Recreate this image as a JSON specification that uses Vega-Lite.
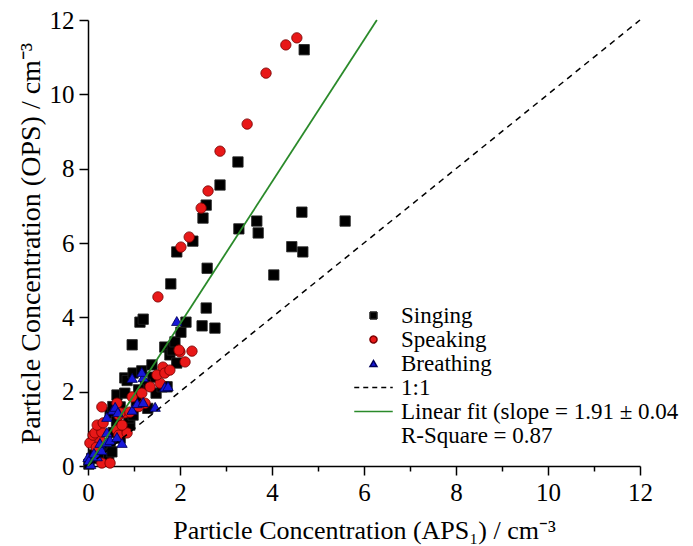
{
  "$schema": "https://vega.github.io/schema/vega-lite/v6.json",
  "width": 552,
  "height": 446,
  "autosize": "none",
  "padding": {"left": 88, "top": 20, "right": 53, "bottom": 80},
  "background": "white",
  "config": {
    "view": {"stroke": null},
    "font": "Liberation Serif",
    "axis": {
      "domainColor": "black", "domainWidth": 1.5, "tickColor": "black", "tickWidth": 1.5,
      "labelColor": "black", "titleColor": "black", "labelFont": "Liberation Serif", "titleFont": "Liberation Serif",
      "labelFontSize": 25, "titleFontSize": 26, "titleFontWeight": "normal", "grid": false
    }
  },
  "datasets": {
    "points": [
      {"series": "Singing", "x": 0.02, "y": 0.05}, {"series": "Singing", "x": 0.08, "y": 0.2}, {"series": "Singing", "x": 0.13, "y": 0.3},
      {"series": "Singing", "x": 0.2, "y": 0.43}, {"series": "Singing", "x": 0.28, "y": 0.25}, {"series": "Singing", "x": 0.37, "y": 0.51},
      {"series": "Singing", "x": 0.45, "y": 0.18}, {"series": "Singing", "x": 0.48, "y": 0.56}, {"series": "Singing", "x": 0.52, "y": 0.38},
      {"series": "Singing", "x": 0.55, "y": 0.9}, {"series": "Singing", "x": 0.48, "y": 1.43}, {"series": "Singing", "x": 0.54, "y": 1.6},
      {"series": "Singing", "x": 0.63, "y": 1.91}, {"series": "Singing", "x": 0.7, "y": 1.59}, {"series": "Singing", "x": 0.62, "y": 1.2},
      {"series": "Singing", "x": 0.8, "y": 1.05}, {"series": "Singing", "x": 0.91, "y": 1.1}, {"series": "Singing", "x": 0.89, "y": 1.29},
      {"series": "Singing", "x": 0.98, "y": 1.37}, {"series": "Singing", "x": 0.8, "y": 1.96}, {"series": "Singing", "x": 0.8, "y": 2.37},
      {"series": "Singing", "x": 0.85, "y": 2.3}, {"series": "Singing", "x": 0.98, "y": 2.5}, {"series": "Singing", "x": 1.17, "y": 2.56},
      {"series": "Singing", "x": 1.05, "y": 1.75}, {"series": "Singing", "x": 1.3, "y": 1.55}, {"series": "Singing", "x": 1.48, "y": 1.96},
      {"series": "Singing", "x": 1.39, "y": 2.72}, {"series": "Singing", "x": 1.41, "y": 2.39}, {"series": "Singing", "x": 1.61, "y": 2.13},
      {"series": "Singing", "x": 1.72, "y": 2.13}, {"series": "Singing", "x": 1.67, "y": 3.2}, {"series": "Singing", "x": 1.78, "y": 2.99},
      {"series": "Singing", "x": 1.83, "y": 3.12}, {"series": "Singing", "x": 1.89, "y": 3.34}, {"series": "Singing", "x": 1.93, "y": 2.77},
      {"series": "Singing", "x": 2.02, "y": 3.6}, {"series": "Singing", "x": 0.96, "y": 3.26}, {"series": "Singing", "x": 1.13, "y": 3.87},
      {"series": "Singing", "x": 1.2, "y": 3.95}, {"series": "Singing", "x": 2.13, "y": 3.87}, {"series": "Singing", "x": 2.48, "y": 3.77},
      {"series": "Singing", "x": 2.76, "y": 3.71}, {"series": "Singing", "x": 2.57, "y": 4.25}, {"series": "Singing", "x": 1.8, "y": 4.9},
      {"series": "Singing", "x": 2.59, "y": 5.32}, {"series": "Singing", "x": 1.93, "y": 5.76}, {"series": "Singing", "x": 2.28, "y": 6.05},
      {"series": "Singing", "x": 2.5, "y": 6.67}, {"series": "Singing", "x": 2.57, "y": 7.02}, {"series": "Singing", "x": 2.87, "y": 7.56},
      {"series": "Singing", "x": 3.26, "y": 8.18}, {"series": "Singing", "x": 3.28, "y": 6.38}, {"series": "Singing", "x": 3.67, "y": 6.59},
      {"series": "Singing", "x": 3.7, "y": 6.27}, {"series": "Singing", "x": 4.65, "y": 6.83}, {"series": "Singing", "x": 4.43, "y": 5.9},
      {"series": "Singing", "x": 4.67, "y": 5.76}, {"series": "Singing", "x": 5.59, "y": 6.59}, {"series": "Singing", "x": 4.04, "y": 5.14},
      {"series": "Singing", "x": 4.7, "y": 11.2}, {"series": "Singing", "x": 0.7, "y": 0.75}, {"series": "Singing", "x": 0.3, "y": 0.6},
      {"series": "Singing", "x": 1.25, "y": 2.2}, {"series": "Singing", "x": 1.1, "y": 2.05},
      {"series": "Speaking", "x": 0.3, "y": 0.08}, {"series": "Speaking", "x": 0.48, "y": 0.08}, {"series": "Speaking", "x": 0.04, "y": 0.62},
      {"series": "Speaking", "x": 0.26, "y": 0.7}, {"series": "Speaking", "x": 0.11, "y": 0.83}, {"series": "Speaking", "x": 0.15, "y": 0.89},
      {"series": "Speaking", "x": 0.3, "y": 0.91}, {"series": "Speaking", "x": 0.2, "y": 1.1}, {"series": "Speaking", "x": 0.33, "y": 1.16},
      {"series": "Speaking", "x": 0.3, "y": 1.59}, {"series": "Speaking", "x": 0.63, "y": 0.97}, {"series": "Speaking", "x": 0.67, "y": 0.83},
      {"series": "Speaking", "x": 0.85, "y": 0.89}, {"series": "Speaking", "x": 0.74, "y": 1.1}, {"series": "Speaking", "x": 0.67, "y": 1.37},
      {"series": "Speaking", "x": 0.8, "y": 1.43}, {"series": "Speaking", "x": 0.7, "y": 1.43}, {"series": "Speaking", "x": 0.91, "y": 1.45},
      {"series": "Speaking", "x": 0.63, "y": 1.69}, {"series": "Speaking", "x": 0.96, "y": 1.86}, {"series": "Speaking", "x": 1.17, "y": 1.96},
      {"series": "Speaking", "x": 1.24, "y": 1.69}, {"series": "Speaking", "x": 1.35, "y": 2.13}, {"series": "Speaking", "x": 1.57, "y": 2.23},
      {"series": "Speaking", "x": 1.5, "y": 2.45}, {"series": "Speaking", "x": 1.63, "y": 2.66}, {"series": "Speaking", "x": 1.67, "y": 2.5},
      {"series": "Speaking", "x": 1.78, "y": 2.58}, {"series": "Speaking", "x": 2.0, "y": 3.07}, {"series": "Speaking", "x": 1.98, "y": 3.12},
      {"series": "Speaking", "x": 2.26, "y": 3.09}, {"series": "Speaking", "x": 2.11, "y": 2.8}, {"series": "Speaking", "x": 1.52, "y": 4.55},
      {"series": "Speaking", "x": 2.02, "y": 5.89}, {"series": "Speaking", "x": 2.2, "y": 6.16}, {"series": "Speaking", "x": 2.46, "y": 6.94},
      {"series": "Speaking", "x": 2.61, "y": 7.4}, {"series": "Speaking", "x": 2.87, "y": 8.47}, {"series": "Speaking", "x": 3.46, "y": 9.2},
      {"series": "Speaking", "x": 3.87, "y": 10.57}, {"series": "Speaking", "x": 4.3, "y": 11.33}, {"series": "Speaking", "x": 4.54, "y": 11.52},
      {"series": "Speaking", "x": 0.18, "y": 0.5}, {"series": "Speaking", "x": 1.1, "y": 1.6},
      {"series": "Breathing", "x": 0.0, "y": 0.24}, {"series": "Breathing", "x": 0.02, "y": 0.16}, {"series": "Breathing", "x": 0.13, "y": 0.35},
      {"series": "Breathing", "x": 0.2, "y": 0.26}, {"series": "Breathing", "x": 0.3, "y": 0.43}, {"series": "Breathing", "x": 0.26, "y": 0.62},
      {"series": "Breathing", "x": 0.41, "y": 0.65}, {"series": "Breathing", "x": 0.48, "y": 0.7}, {"series": "Breathing", "x": 0.63, "y": 0.78},
      {"series": "Breathing", "x": 0.74, "y": 0.62}, {"series": "Breathing", "x": 0.41, "y": 0.91}, {"series": "Breathing", "x": 0.41, "y": 1.32},
      {"series": "Breathing", "x": 0.54, "y": 1.51}, {"series": "Breathing", "x": 0.59, "y": 1.59}, {"series": "Breathing", "x": 0.65, "y": 1.45},
      {"series": "Breathing", "x": 0.96, "y": 1.51}, {"series": "Breathing", "x": 1.07, "y": 1.69}, {"series": "Breathing", "x": 1.2, "y": 1.72},
      {"series": "Breathing", "x": 1.46, "y": 1.59}, {"series": "Breathing", "x": 0.96, "y": 2.37}, {"series": "Breathing", "x": 1.2, "y": 2.39},
      {"series": "Breathing", "x": 1.17, "y": 2.53}, {"series": "Breathing", "x": 1.67, "y": 2.13}, {"series": "Breathing", "x": 1.74, "y": 2.15},
      {"series": "Breathing", "x": 1.93, "y": 3.9}, {"series": "Breathing", "x": 0.06, "y": 0.05}
    ],
    "oneToOne": [{"x": 0, "y": 0}, {"x": 12, "y": 12}],
    "fit": [{"x": 0, "y": 0}, {"x": 6.28, "y": 12}]
  },
  "layer": [
    {
      "data": {"name": "points"},
      "mark": {"type": "point", "filled": true, "opacity": 1, "strokeWidth": 1, "size": 105},
      "encoding": {
        "x": {"field": "x", "type": "quantitative", "scale": {"domain": [0, 12], "nice": false},
          "axis": {"title": "Particle Concentration (APS₁) / cm⁻³", "values": [0,1,2,3,4,5,6,7,8,9,10,11,12],
            "labelExpr": "datum.value % 2 == 0 ? datum.label : ''",
            "tickSize": {"condition": {"test": "datum.value % 2 == 1", "value": 5}, "value": 9},
            "labelPadding": 5, "titlePadding": 12, "labelFlush": false}},
        "y": {"field": "y", "type": "quantitative", "scale": {"domain": [0, 12], "nice": false},
          "axis": {"title": "Particle Concentration (OPS) / cm⁻³", "values": [0,1,2,3,4,5,6,7,8,9,10,11,12],
            "labelExpr": "datum.value % 2 == 0 ? datum.label : ''",
            "tickSize": {"condition": {"test": "datum.value % 2 == 1", "value": 5}, "value": 9},
            "labelPadding": 5, "titlePadding": 4, "titleFontSize": 28, "labelFlush": false}},
        "color": {"field": "series", "type": "nominal",
          "scale": {"domain": ["Singing", "Speaking", "Breathing", "1:1", "Linear fit (slope = 1.91 ± 0.04", "R-Square = 0.87"],
                    "range": ["#000000", "#e81818", "#1818d8", "#000000", "#2a8a2a", "#ffffff"]},
          "legend": {
            "title": null, "orient": "none", "legendX": 274, "legendY": 284, "padding": 0,
            "labelFont": "Liberation Serif", "labelFontSize": 23, "labelColor": "black", "labelOffset": 16,
            "labelLimit": 0, "rowPadding": -1, "symbolSize": 49,
            "symbolStrokeWidth": 1.5, "symbolOpacity": 1
          }},
        "shape": {"field": "series", "type": "nominal",
          "scale": {"domain": ["Singing", "Speaking", "Breathing", "1:1", "Linear fit (slope = 1.91 ± 0.04", "R-Square = 0.87"],
                    "range": ["square", "circle", "triangle-up", "M-5.5,0H5.5", "M-5.5,0H5.5", "M-5.5,0H5.5"]}},
        "strokeDash": {"field": "series", "type": "nominal",
          "scale": {"domain": ["Singing", "Speaking", "Breathing", "1:1", "Linear fit (slope = 1.91 ± 0.04", "R-Square = 0.87"],
                    "range": [[1, 0], [1, 0], [1, 0], [5, 4], [1, 0], [1, 0]]}},
        "stroke": {"field": "series", "type": "nominal", "legend": null,
          "scale": {"domain": ["Singing", "Speaking", "Breathing", "1:1", "Linear fit (slope = 1.91 ± 0.04", "R-Square = 0.87"],
                    "range": ["#202020", "#7a0000", "#00005a", "#000000", "#2a8a2a", "transparent"]}}
      }
    },
    {
      "data": {"name": "oneToOne"},
      "mark": {"type": "line", "color": "black", "strokeWidth": 1.5, "strokeDash": [6, 5]},
      "encoding": {"x": {"field": "x", "type": "quantitative"}, "y": {"field": "y", "type": "quantitative"}}
    },
    {
      "data": {"name": "fit"},
      "mark": {"type": "line", "color": "#2a8a2a", "strokeWidth": 1.8},
      "encoding": {"x": {"field": "x", "type": "quantitative"}, "y": {"field": "y", "type": "quantitative"}}
    }
  ]
}
